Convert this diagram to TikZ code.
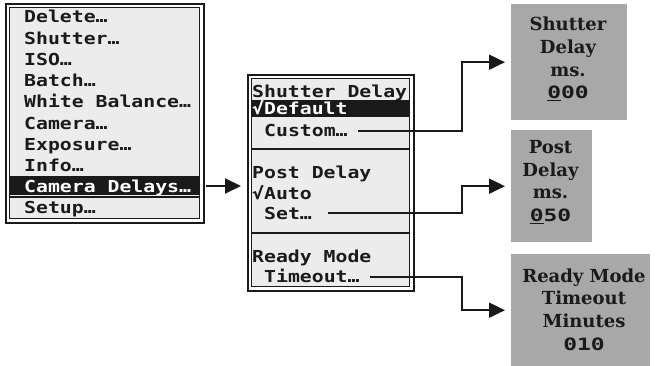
\documentclass[tikz,border=0pt]{standalone}
\usepackage{fontspec}
\usetikzlibrary{arrows.meta}
\newfontfamily\lcd[FakeStretch=1.2]{DejaVu Sans Mono}
\newfontfamily\lcddig[FakeStretch=1.35]{DejaVu Sans Mono}
\newfontfamily\lcdserif{DejaVu Serif}
\definecolor{menubg}{HTML}{ECECEC}
\definecolor{lcdgray}{HTML}{A8A8A8}
\definecolor{ink}{HTML}{1A1A1A}
\tikzset{
  outerbox/.style={draw=ink, line width=2pt, fill=white, inner sep=0pt, anchor=north west},
  innerbox/.style={draw=ink, line width=1pt, fill=menubg, inner sep=0pt, anchor=north west},
  item/.style={font=\lcd\fontsize{16.5}{18}\selectfont\bfseries, inner sep=0pt,
               text height=12pt, text depth=0pt, anchor=west, text=ink},
  lcdbox/.style={fill=lcdgray, draw=none, inner sep=0pt, anchor=north west},
  lcdtext/.style={font=\lcdserif\fontsize{18}{22.7}\selectfont\bfseries, align=center,
                  inner sep=0pt, text=ink},
  conn/.style={draw=ink, line width=2pt, -{Triangle[length=16pt,width=15pt]}},
  sepline/.style={draw=ink, line width=1.2pt}
}
\begin{document}
\begin{tikzpicture}[x=1pt,y=-1pt]
\useasboundingbox (0,0) rectangle (660,366);

% ---- main menu ----
\node[outerbox, minimum width=198pt, minimum height=219pt] (m1) at (5,3) {};
\node[innerbox, minimum width=190pt, minimum height=211pt] (m1in) at (9,7) {};
\fill[ink] (9,176) rectangle (199,195);
\draw[sepline] (9,197) -- (199,197);
\node[item] (i1) at (24,17) {Delete…};
\node[item] (i2) at (24,38.3) {Shutter…};
\node[item] (i3) at (24,59.5) {ISO…};
\node[item] (i4) at (24,80.8) {Batch…};
\node[item] (i5) at (24,102) {White Balance…};
\node[item] (i6) at (24,123.3) {Camera…};
\node[item] (i7) at (24,144.5) {Exposure…};
\node[item] (i8) at (24,165.8) {Info…};
\node[item, text=white] (i9) at (24,186) {Camera Delays…};
\node[item] (i10) at (24,207.5) {Setup…};

% ---- delays menu ----
\node[outerbox, minimum width=166pt, minimum height=216pt] (m2) at (247,74) {};
\node[innerbox, minimum width=158pt, minimum height=208pt] (m2in) at (251,78) {};
\fill[ink] (251,100) rectangle (409,117);
\draw[sepline] (251,149) -- (409,149);
\draw[sepline] (251,233) -- (409,233);
\node[item] (sd) at (252,92) {Shutter Delay};
\node[item, text=white] (df) at (252,108.5) {√Default};
\node[item] (cu) at (264,131) {Custom…};
\node[item] (pd) at (252,172) {Post Delay};
\node[item] (au) at (252,193) {√Auto};
\node[item] (se) at (264,213) {Set…};
\node[item] (rm) at (252,256) {Ready Mode};
\node[item] (to) at (264,276.5) {Timeout…};

% ---- LCD screens ----
\node[lcdbox, minimum width=116pt, minimum height=116pt] (bA) at (511,4) {};
\node[lcdbox, minimum width=81pt, minimum height=112pt] (bB) at (511,130) {};
\node[lcdbox, minimum width=139pt, minimum height=112pt] (bC) at (511,254) {};
\node[lcdtext] (tA) at (568,59) {Shutter\\Delay\\ms.\\{\lcddig\fontsize{17}{22.7}\selectfont\bfseries\underline{0}00}};
\node[lcdtext] (tB) at (550.5,182) {Post\\Delay\\ms.\\{\lcddig\fontsize{17}{22.7}\selectfont\bfseries\underline{0}50}};
\node[lcdtext] (tC) at (584,309.5) {Ready Mode\\Timeout\\Minutes\\{\lcddig\fontsize{17}{22.7}\selectfont\bfseries 010}};

% ---- connectors ----
\coordinate (jx) at (462,0);
\draw[conn] ([xshift=1pt]m1.east |- i9.east) -- ([xshift=-6pt]m2.west |- i9.east);
\draw[conn] ([xshift=10pt]cu.east) -| (jx |- bA.west) -- ([xshift=-6pt]bA.west);
\draw[conn] ([xshift=16pt]se.east) -| (jx |- bB.west) -- ([xshift=-6pt]bB.west);
\draw[conn] ([xshift=10pt]to.east) -| (jx |- bC.west) -- ([xshift=-6pt]bC.west);
\end{tikzpicture}
\end{document}
